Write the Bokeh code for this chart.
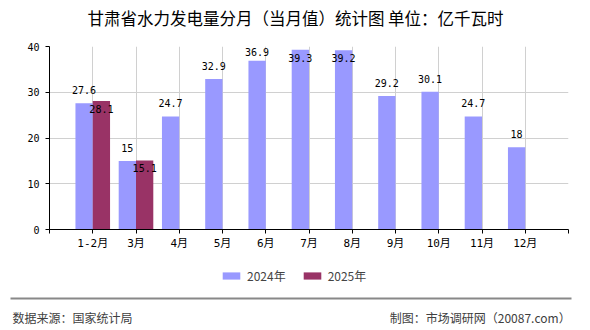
from bokeh.plotting import figure
from bokeh.models import (ColumnDataSource, FixedTicker, Range1d, Legend, LegendItem)
from bokeh.layouts import column
from bokeh.core.properties import value
from bokeh.embed import file_html
from bokeh.resources import INLINE

# ---- data ----
categories = ["1-2月", "3月", "4月", "5月", "6月", "7月", "8月", "9月", "10月", "11月", "12月"]
values_2024 = [27.6, 15, 24.7, 32.9, 36.9, 39.3, 39.2, 29.2, 30.1, 24.7, 18]
values_2025 = [28.1, 15.1]
series_names = ["2024年", "2025年"]
y_ticks = [0, 10, 20, 30, 40]

title_text = "甘肃省水力发电量分月（当月值）统计图 单位：亿千瓦时"
source_text = "数据来源：国家统计局"
credit_text = "制图：市场调研网（20087.com）"

C2024 = "#9999FF"
C2025 = "#993366"
MONO = "DejaVu Sans Mono, Noto Sans CJK SC"
CJK = "Noto Sans CJK SC"

W = 590
HEAD_H, MAIN_H, FOOT_H = 36, 219, 75
FL, FR = 49, 568
F_TOP, F_BOT = 46, 229          # frame in page pixels
YMAX = 40

# ---------- header (title) ----------
head = figure(width=W, height=HEAD_H, output_backend="svg", toolbar_location=None,
              x_range=Range1d(0, W), y_range=Range1d(HEAD_H, 0),
              x_axis_type=None, y_axis_type=None, min_border=0)
head.frame_align = False
head.outline_line_color = None
head.grid.visible = False
head.text(x=[W / 2], y=[17], text=[title_text], text_align="center",
          text_baseline="middle", text_font=value(CJK), text_font_size="16.5px",
          text_color="black")

# ---------- main chart ----------
p = figure(width=W, height=MAIN_H, output_backend="svg", toolbar_location=None,
           x_range=Range1d(-1, len(categories)), y_range=Range1d(0, YMAX),
           min_border_left=FL, min_border_right=W - FR,
           min_border_top=F_TOP - HEAD_H, min_border_bottom=HEAD_H + MAIN_H - F_BOT)
p.frame_align = False
p.outline_line_color = None

def fmt(v):
    return str(int(v)) if float(v).is_integer() else str(v)

px_per_unit = (F_BOT - F_TOP) / YMAX

def above_offset(v):
    room = (YMAX - v) * px_per_unit   # pixels between bar top and frame top
    if room >= 18:
        return -13
    if room >= 10:
        return -(room - 5)
    return 8

x24 = [i - 0.2 for i in range(len(values_2024))]
x25 = [i + 0.2 for i in range(len(values_2025))]
src24 = ColumnDataSource(dict(x=x24, top=values_2024,
                              label=[fmt(v) for v in values_2024],
                              off=[above_offset(v) for v in values_2024]))
src25 = ColumnDataSource(dict(x=x25, top=values_2025,
                              label=[fmt(v) for v in values_2025],
                              off=[8 for v in values_2025]))

p.vbar(x="x", top="top", width=0.4, source=src24, fill_color=C2024, line_color=None)
p.vbar(x="x", top="top", width=0.4, source=src25, fill_color=C2025, line_color=None)

for s in (src24, src25):
    p.text(x="x", y="top", text="label", source=s, y_offset="off",
           text_align="center", text_baseline="middle",
           text_font=value(MONO), text_font_size="10px", text_color="black")

xa = p.xaxis[0]
xa.ticker = FixedTicker(ticks=list(range(-1, len(categories) + 1)))
overrides = {i: c for i, c in enumerate(categories)}
overrides.update({-1: "", len(categories): ""})
xa.major_label_overrides = overrides
xa.major_label_text_font = MONO
xa.major_label_text_font_size = "11px"
xa.major_label_text_color = "black"
xa.major_tick_out = 4
xa.major_tick_in = 0
xa.minor_tick_line_color = None
xa.major_label_standoff = 3
xa.axis_line_color = "black"
xa.major_tick_line_color = "black"

ya = p.yaxis[0]
ya.ticker = FixedTicker(ticks=y_ticks)
ya.major_label_text_font = MONO
ya.major_label_text_font_size = "10px"
ya.major_label_text_color = "black"
ya.major_tick_out = 4
ya.major_tick_in = 0
ya.minor_tick_line_color = None
ya.major_label_standoff = 6
ya.axis_line_color = "black"
ya.major_tick_line_color = "black"

p.xgrid.grid_line_color = "#d0d0d0"
p.ygrid.grid_line_color = "#d0d0d0"

# ---------- footer (legend, separator, source) ----------
foot = figure(width=W, height=FOOT_H, output_backend="svg", toolbar_location=None,
              x_range=Range1d(0, W), y_range=Range1d(FOOT_H, 0),
              x_axis_type=None, y_axis_type=None, min_border=0)
foot.frame_align = False
foot.outline_line_color = None
foot.grid.visible = False

# off-screen proxy bars so that the legend swatches get their colours
proxy = ColumnDataSource(dict(x=[-1000], top=[0]))
l24 = foot.vbar(x="x", top="top", width=1, source=proxy, fill_color=C2024, line_color=None)
l25 = foot.vbar(x="x", top="top", width=1, source=proxy, fill_color=C2025, line_color=None)
legend = Legend(items=[LegendItem(label=series_names[0], renderers=[l24]),
                       LegendItem(label=series_names[1], renderers=[l25])],
                orientation="horizontal", location=(220, FOOT_H - 29),
                glyph_width=22, glyph_height=9, label_standoff=5, spacing=15,
                padding=0, margin=0, border_line_color=None,
                background_fill_alpha=0, label_text_font=CJK,
                label_text_font_size="12px", label_height=14,
                label_text_baseline="middle")
foot.add_layout(legend, "center")

foot.line(x=[10, 571], y=[43, 43], line_color="#888888", line_width=2)
foot.text(x=[12], y=[62], text=[source_text], text_align="left", text_baseline="middle",
          text_font=value(CJK), text_font_size="12px", text_color="#404040")
foot.text(x=[570], y=[62], text=[credit_text], text_align="right", text_baseline="middle",
          text_font=value(CJK), text_font_size="12px", text_color="#404040")

layout = column(head, p, foot, spacing=0)
open("out.html", "w").write(file_html(layout, INLINE))
